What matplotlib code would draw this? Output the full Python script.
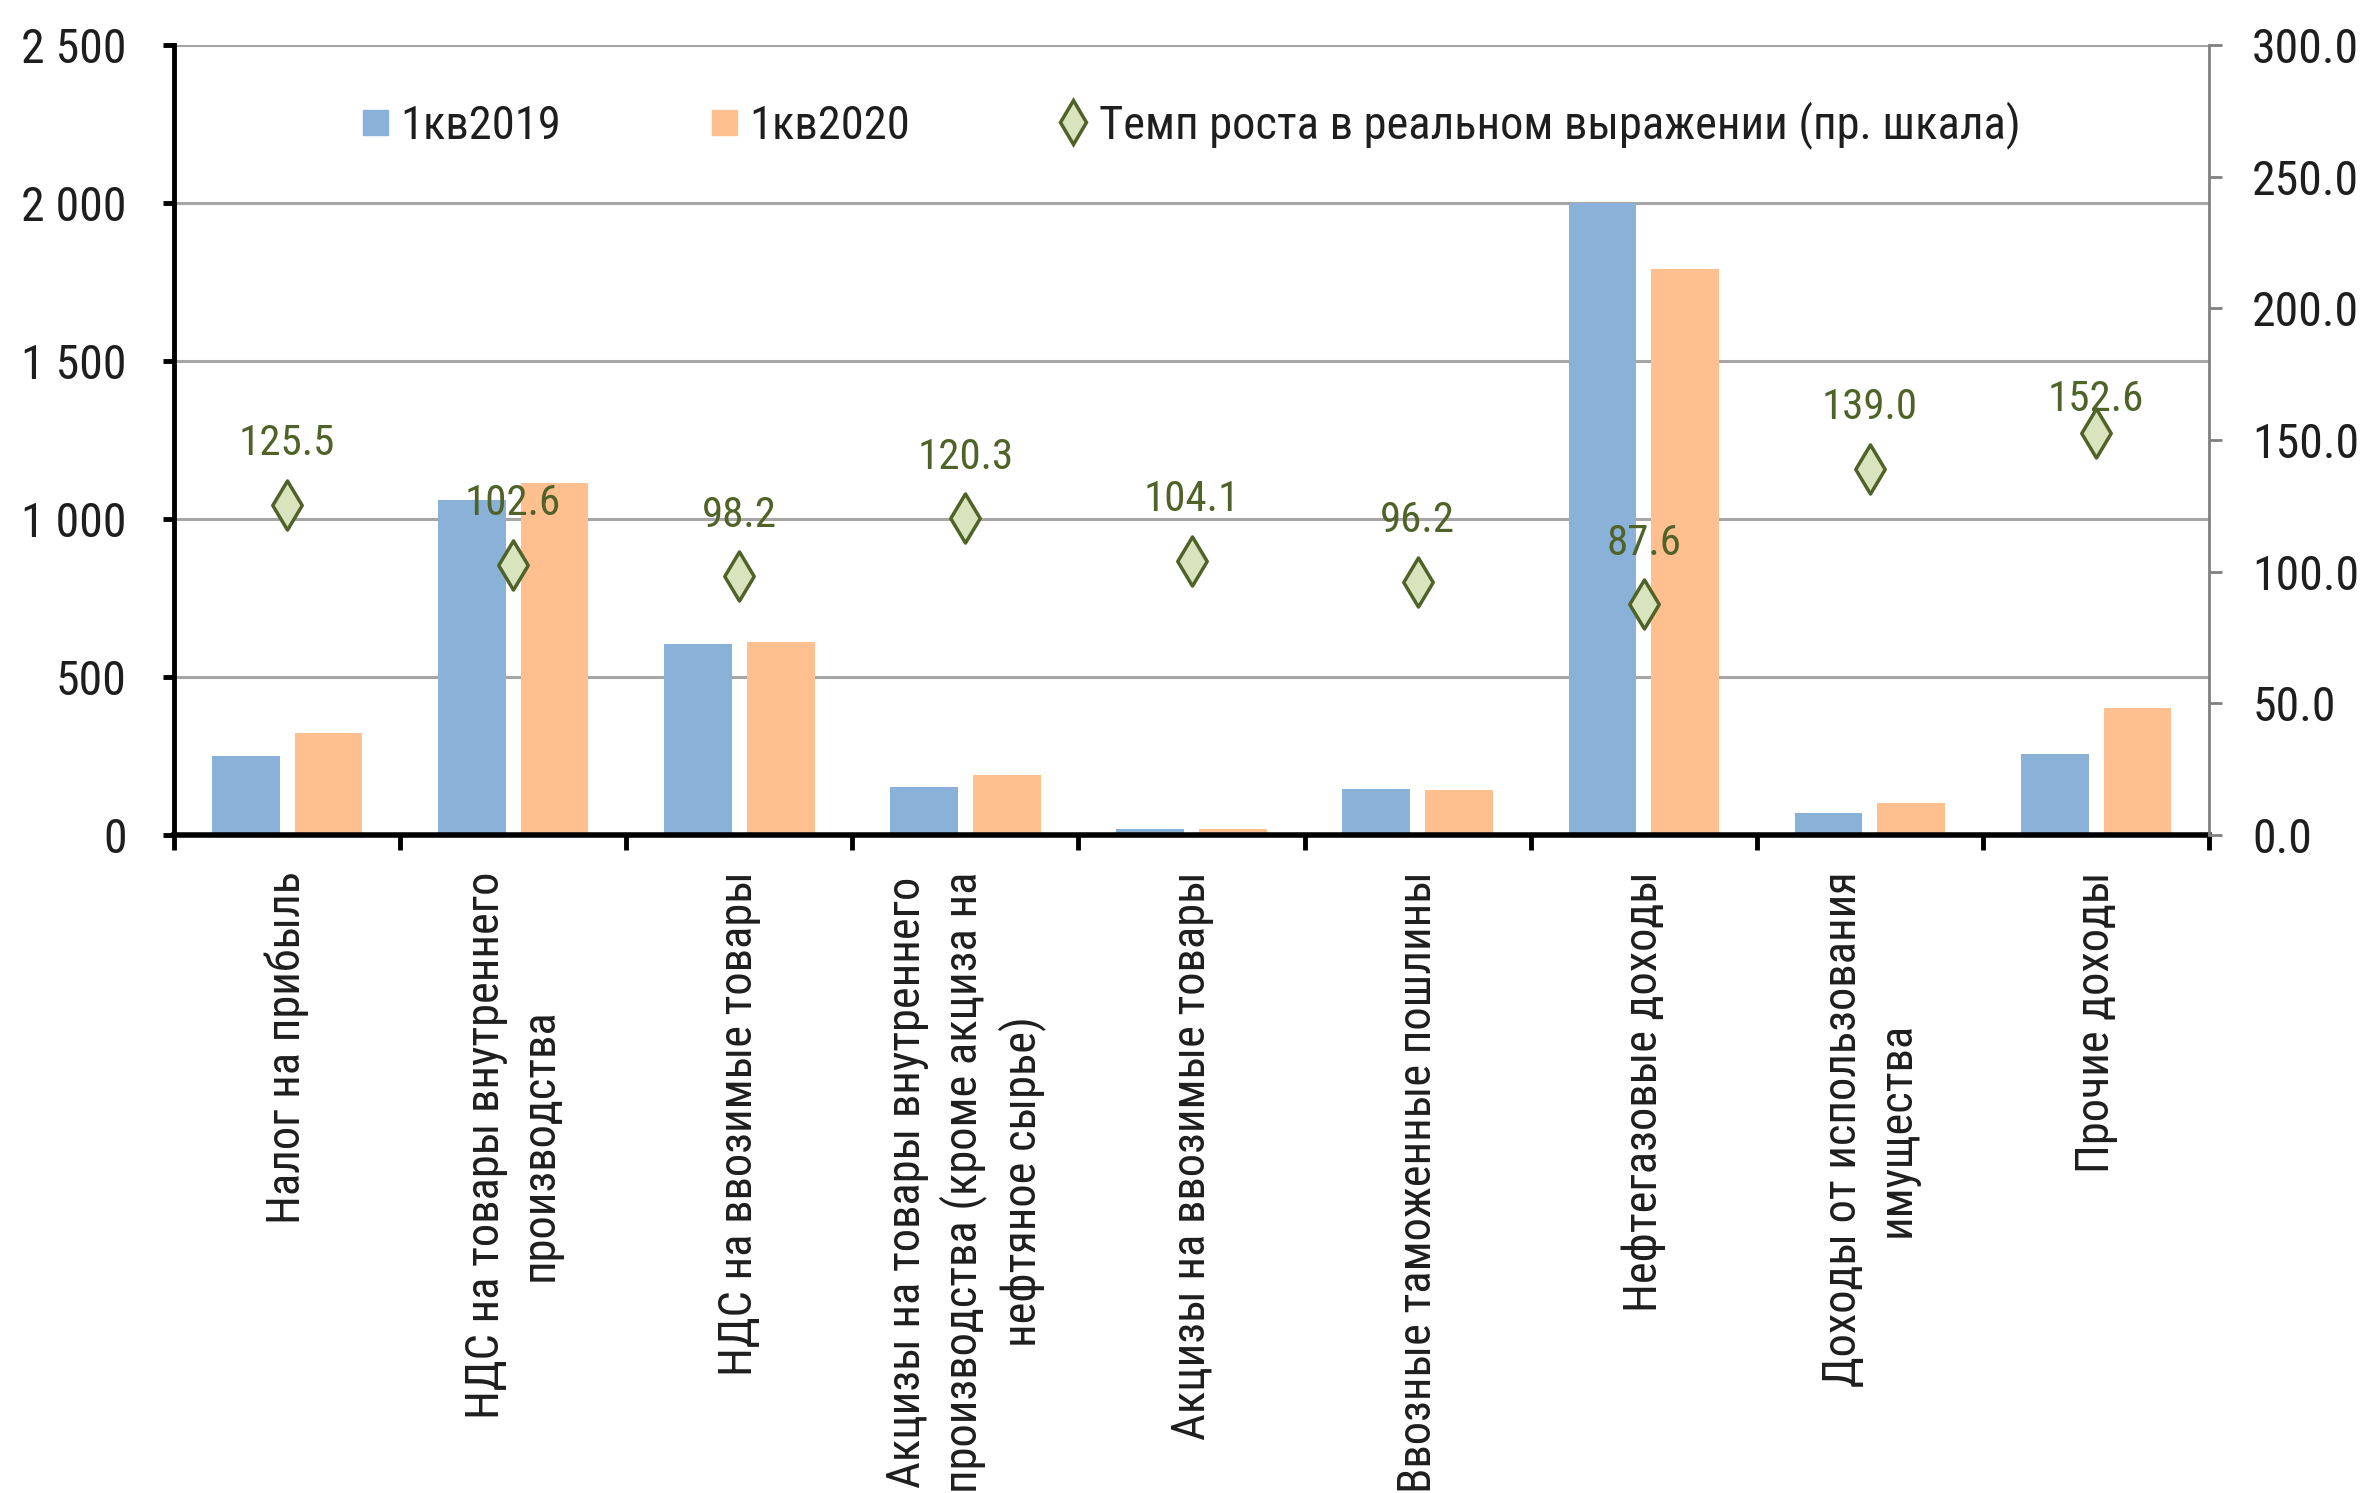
import matplotlib
matplotlib.use("Agg")
import matplotlib.pyplot as plt
from matplotlib import font_manager
from matplotlib.lines import Line2D
import numpy as np

# pick a narrow face if one is installed, else shrink the regular one
fonts = font_manager.fontManager.ttflist
names = {f.name for f in fonts}
narrow = None
for n in ["Liberation Sans Narrow", "Arial Narrow", "Roboto Condensed",
          "Open Sans Condensed", "DejaVu Sans Condensed"]:
    if n in names:
        narrow = (n, "normal")
        break
if narrow is None:
    for f in fonts:
        if f.name in ("Roboto", "DejaVu Sans", "Open Sans") and "condensed" in str(f.stretch):
            narrow = (f.name, f.stretch)
            break
if narrow is not None:
    plt.rcParams['font.family'] = [narrow[0], 'DejaVu Sans']
    plt.rcParams['font.stretch'] = narrow[1]
    k = 1.0
else:
    plt.rcParams['font.family'] = ['Liberation Sans', 'DejaVu Sans']
    k = 0.82

categories = [
    "Налог на прибыль",
    "НДС на товары внутреннего\nпроизводства",
    "НДС на ввозимые товары",
    "Акцизы на товары внутреннего\nпроизводства (кроме акциза на\nнефтяное сырье)",
    "Акцизы на ввозимые товары",
    "Ввозные таможенные пошлины",
    "Нефтегазовые доходы",
    "Доходы от использования\nимущества",
    "Прочие доходы",
]
q1_2019 = [250, 1061, 606, 153, 20, 145, 2000, 70, 255]
q1_2020 = [323, 1115, 612, 191, 18, 142, 1790, 100, 402]
growth = [125.5, 102.6, 98.2, 120.3, 104.1, 96.2, 87.6, 139.0, 152.6]
label_dy = [44, 44, 44, 44, 44, 44, 44, 44, 24]  # points above marker

c_blue = "#8AB2D8"
c_orange = "#FFBF8F"
c_fill = "#D7E4BD"
c_edge = "#4F6228"
c_text = "#1E1E1E"

fig = plt.figure(figsize=(23.67, 14.93), dpi=100)
ax = fig.add_axes([0.0735, 0.4407, 0.8598, 0.5292])
ax2 = ax.twinx()

x = np.arange(len(categories))
w = 0.30
ax.bar(x - 0.183, q1_2019, w, color=c_blue, zorder=3)
ax.bar(x + 0.183, q1_2020, w, color=c_orange, zorder=3)

ax.set_xlim(-0.5, len(categories) - 0.5)
ax.set_ylim(0, 2500)
ax.set_yticks(np.arange(0, 2501, 500))
ax.set_yticklabels(["{:,.0f}".format(v).replace(",", " ") for v in np.arange(0, 2501, 500)])
ax.yaxis.grid(True, color="#A6A6A6", linewidth=2.2, zorder=0)
ax.set_axisbelow(True)

ax.set_xticks(x)
ax.set_xticklabels(categories, rotation=90, ha="center", va="top",
                   multialignment="center", fontsize=33.5 * k, color=c_text,
                   linespacing=1.28)
ax.set_xticks(np.arange(-0.5, len(categories), 1), minor=True)
ax.tick_params(axis="x", which="major", length=0, pad=26)
ax.tick_params(axis="x", which="minor", length=11, width=3.5, color="black")
ax.tick_params(axis="y", length=8, width=3.5, color="black", pad=26,
               labelsize=34.5 * k, labelcolor=c_text)

for s in ["top", "right"]:
    ax.spines[s].set_visible(False)
ax.spines["left"].set_linewidth(3.5)
ax.spines["bottom"].set_linewidth(4)
ax.spines["bottom"].set_zorder(5)

ax2.scatter(x, growth, marker="d", s=25 ** 2, facecolor=c_fill,
            edgecolor=c_edge, linewidth=2.5, zorder=5)
for xi, g, dy in zip(x, growth, label_dy):
    ax2.annotate("{:.1f}".format(g), (xi, g), xytext=(0, dy),
                 textcoords="offset points", ha="center", va="center",
                 fontsize=31 * k, color=c_edge)
ax2.set_ylim(0, 300)
ax2.set_yticks(np.arange(0, 301, 50))
ax2.set_yticklabels(["{:.1f}".format(v) for v in np.arange(0, 301, 50)])
ax2.tick_params(axis="y", length=9, width=2, color="#808080", pad=22,
                labelsize=34.5 * k, labelcolor=c_text)
for s in ["top", "left", "bottom"]:
    ax2.spines[s].set_visible(False)
ax2.spines["right"].set_color("#808080")
ax2.spines["right"].set_linewidth(2)

handles = [
    Line2D([], [], linestyle="none", marker="s", markersize=18,
           markerfacecolor=c_blue, markeredgecolor=c_blue),
    Line2D([], [], linestyle="none", marker="s", markersize=18,
           markerfacecolor=c_orange, markeredgecolor=c_orange),
    Line2D([], [], linestyle="none", marker="d", markersize=22,
           markerfacecolor=c_fill, markeredgecolor=c_edge, markeredgewidth=2.5),
]
labels = ["1кв2019", "1кв2020", "Темп роста в реальном выражении (пр. шкала)"]
leg = fig.legend(handles, labels, loc="center", bbox_to_anchor=(0.503, 0.916),
                 ncol=3, frameon=False, fontsize=33.5 * k, handlelength=0.6,
                 handletextpad=0.25, columnspacing=3.2 / k)
for t in leg.get_texts():
    t.set_color(c_text)

fig.savefig("out.png", dpi=100)
